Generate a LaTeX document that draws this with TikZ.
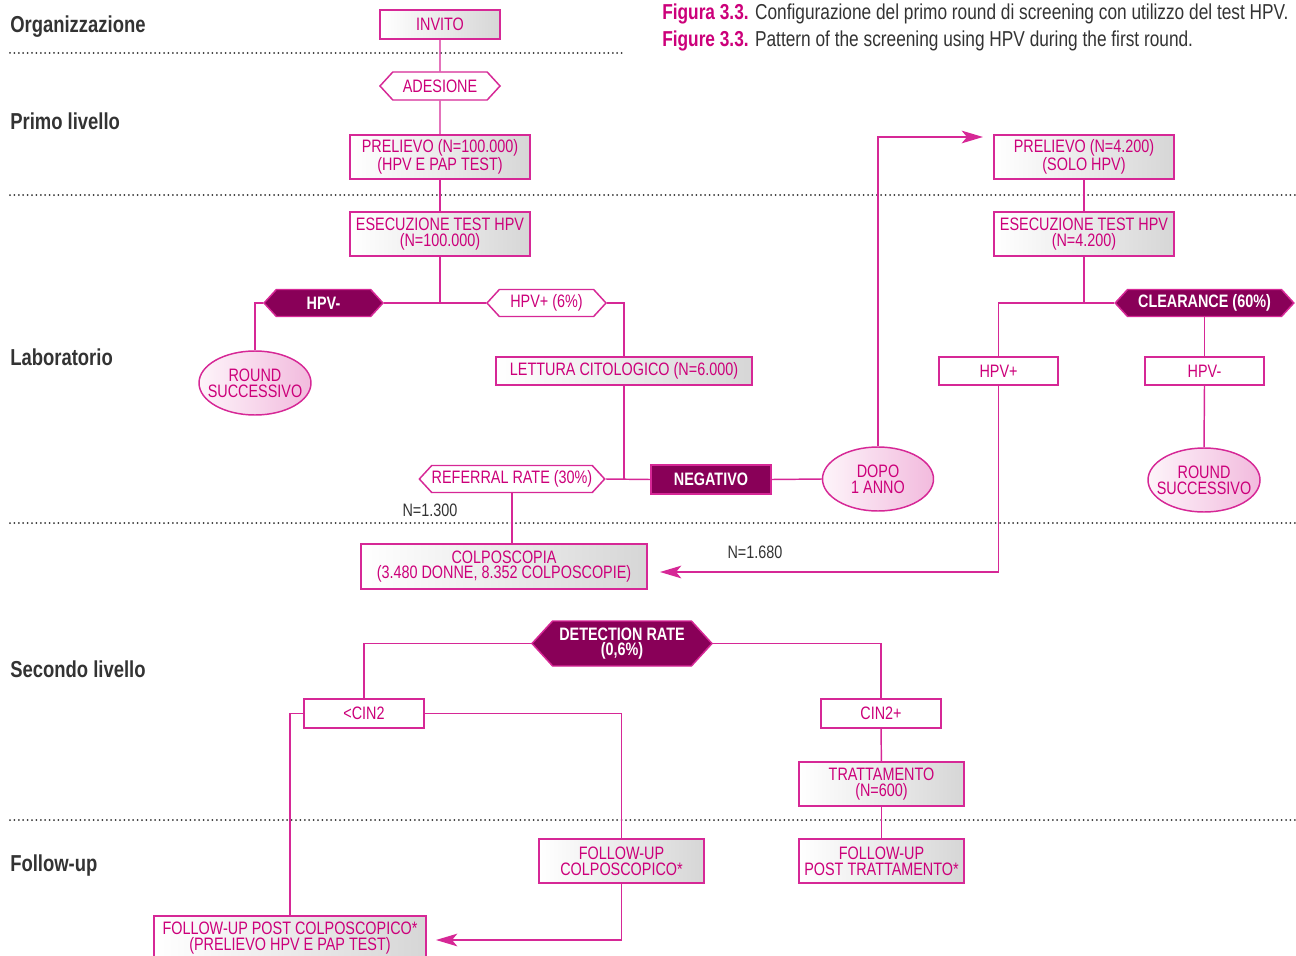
\documentclass[tikz,border=0pt]{standalone}
\usepackage{fontspec}
\setmainfont{Liberation Sans}[FakeStretch=0.8]
\usetikzlibrary{shapes.symbols,shapes.geometric,arrows.meta}
\definecolor{mline}{RGB}{214,40,150}
\definecolor{mtext}{RGB}{204,0,122}
\definecolor{mdark}{RGB}{137,0,88}
\definecolor{lab}{RGB}{51,51,51}
\tikzset{
  base/.style={font=\fontsize{13.5}{11.8}\selectfont, text=mtext, align=center, inner sep=0pt, line width=1.1pt, draw=mline},
  gbox/.style={base, rectangle, left color=white, right color=black!16},
  wbox/.style={base, rectangle, fill=white},
  dbox/.style={base, rectangle, fill=mdark, text=white, font=\fontsize{13.5}{11.8}\selectfont\bfseries},
  whex/.style={base, signal, signal to=west and east, signal pointer angle=95, fill=white},
  dhex/.style={base, signal, signal to=west and east, signal pointer angle=95, fill=mdark, text=white, font=\fontsize{13.5}{11.8}\selectfont\bfseries},
  oval/.style={base, ellipse, inner xsep=-9pt, inner ysep=0pt, left color=mline!5, right color=mline!32},
  conn/.style={draw=mline, line width=1.1pt},
  arr/.style={conn, -{Stealth[length=16pt,width=9.5pt,inset=4pt]}},
  sep/.style={draw=lab, line width=1.5pt, line cap=round, dash pattern=on 0pt off 3.3pt},
  sect/.style={anchor=west, text=lab, font=\fontsize{17.3}{18}\selectfont\bfseries, inner sep=0pt},
  num/.style={text=lab, font=\fontsize{13.5}{12}\selectfont, inner sep=0pt},
  capt/.style={text=lab, font=\fontsize{16.2}{18}\selectfont, inner sep=0pt, anchor=west}
}
\begin{document}
\begin{tikzpicture}[x=0.75pt,y=-0.75pt]
\useasboundingbox (0,0) rectangle (1296,956);
% separators
\draw[sep] (10,53) -- (625,53);
\draw[sep] (10,195) -- (1296,195);
\draw[sep] (10,523) -- (1296,523);
\draw[sep] (10,820) -- (1296,820);
% section labels
\node[sect] (s1) at (10,27) {Organizzazione};
\node[sect] (s2) at (10,121) {Primo livello};
\node[sect] (s3) at (10,357) {Laboratorio};
\node[sect] (s4) at (10,669) {Secondo livello};
\node[sect] (s5) at (10,866) {Follow-up};
% caption
\node[capt] (cap1) at (662,14) {\textcolor{mtext}{\bfseries Figura 3.3.} Configurazione del primo round di screening con utilizzo del test HPV.};
\node[capt] (cap2) at (662,41) {\textcolor{mtext}{\bfseries Figure 3.3.} Pattern of the screening using HPV during the first round.};
% left column
\node[gbox, minimum width=90pt, minimum height=21.75pt] (invito) at (440,24.5) {INVITO};
\node[whex, minimum width=90pt, minimum height=21pt] (adesione) at (440,86) {ADESIONE};
\node[gbox, minimum width=135pt, minimum height=33pt] (prel1) at (440,157) {PRELIEVO (N=100.000)\\(HPV E PAP TEST)};
\node[gbox, minimum width=135pt, minimum height=33pt] (esec1) at (440,234) {ESECUZIONE TEST HPV\\(N=100.000)};
\node[dhex, minimum width=89.25pt, minimum height=20.25pt] (hpvm) at (323.5,303) {HPV-};
\node[whex, minimum width=89.25pt, minimum height=20.25pt] (hpvp) at (546.5,303) {HPV+ (6\%)};
\node[oval, minimum width=84pt, minimum height=48pt] (round1) at (255,383) {ROUND\\SUCCESSIVO};
\node[gbox, minimum width=192pt, minimum height=21pt] (lett) at (624,371) {LETTURA CITOLOGICO (N=6.000)};
\node[whex, minimum width=133.5pt, minimum height=20.25pt] (refer) at (512,479) {REFERRAL RATE (30\%)};
\node[dbox, minimum width=90pt, minimum height=21.75pt] (neg) at (711,479.5) {NEGATIVO};
\node[oval, minimum width=83.25pt, minimum height=48pt] (dopo) at (878,479) {DOPO\\1 ANNO};
% right column
\node[gbox, minimum width=135pt, minimum height=33pt] (prel2) at (1084,157) {PRELIEVO (N=4.200)\\(SOLO HPV)};
\node[gbox, minimum width=135pt, minimum height=33pt] (esec2) at (1084,234) {ESECUZIONE TEST HPV\\(N=4.200)};
\node[dhex, minimum width=134pt, minimum height=20.25pt] (clear) at (1204.5,303) {CLEARANCE (60\%)};
\node[wbox, minimum width=89.25pt, minimum height=21pt] (hpvp2) at (998.5,371) {HPV+};
\node[wbox, minimum width=89.25pt, minimum height=21pt] (hpvm2) at (1204.5,371) {HPV-};
\node[oval, minimum width=84pt, minimum height=48pt] (round2) at (1204,480) {ROUND\\SUCCESSIVO};
% second level
\node[gbox, minimum width=214.5pt, minimum height=33.75pt] (colpo) at (504,566.5) {COLPOSCOPIA\\(3.480 DONNE, 8.352 COLPOSCOPIE)};
\node[dhex, minimum width=135pt, minimum height=33.75pt] (detect) at (622,643.5) {DETECTION RATE\\(0,6\%)};
\node[wbox, minimum width=90pt, minimum height=21.75pt] (cinm) at (364,713.5) {<CIN2};
\node[wbox, minimum width=90pt, minimum height=21.75pt] (cinp) at (881,713.5) {CIN2+};
\node[gbox, minimum width=123.75pt, minimum height=33pt] (tratt) at (881.5,784) {TRATTAMENTO\\(N=600)};
% follow-up
\node[gbox, minimum width=123.75pt, minimum height=33pt] (fuc) at (621.5,861) {FOLLOW-UP\\COLPOSCOPICO*};
\node[gbox, minimum width=123.75pt, minimum height=33pt] (fupt) at (881.5,861) {FOLLOW-UP\\POST TRATTAMENTO*};
\node[gbox, minimum width=204pt, minimum height=33pt] (fupc) at (290,938) {FOLLOW-UP POST COLPOSCOPICO*\\(PRELIEVO HPV E PAP TEST)};
% numbers
\node[num] (n1) at (430,510) {N=1.300};
\node[num] (n2) at (755,552) {N=1.680};
% arrow ends
\coordinate (a1) at (983,137);
\coordinate (a2) at (660,572);
\coordinate (a3) at (436,940);
% connectors
\draw[conn] (invito) -- (adesione);
\draw[conn] (adesione) -- (prel1);
\draw[conn] (prel1) -- (esec1);
\draw[conn] (esec1.south) -- (esec1.south |- hpvm.east);
\draw[conn] (hpvm.east) -- (hpvp.west);
\draw[conn] (hpvm.west) -| (round1.north);
\draw[conn] (hpvp.east) -| (lett.north);
\draw[conn] (lett.south) -- (lett.south |- neg.west);
\draw[conn] (refer.east) -- (neg.west);
\draw[conn] (neg.east) -- (dopo.west);
\draw[arr] (dopo.north) |- (a1);
\draw[conn] (prel2) -- (esec2);
\draw[conn] (esec2.south) -- (esec2.south |- clear.west);
\draw[conn] (clear.west) -| (hpvp2.north);
\draw[conn] (clear.south) -- (hpvm2.north);
\draw[conn] (hpvm2.south) -- (round2.north);
\draw[arr] (hpvp2.south) |- (a2);
\draw[conn] (refer.south) -- (refer.south |- colpo.north);
\draw[conn] (detect.west) -| (cinm.north);
\draw[conn] (detect.east) -| (cinp.north);
\draw[conn] (cinm.west) -| (fupc.north);
\draw[conn] (cinm.east) -| (fuc.north);
\draw[arr] (fuc.south) |- (a3);
\draw[conn] (cinp) -- (tratt);
\draw[conn] (tratt) -- (fupt);
\end{tikzpicture}
\end{document}
